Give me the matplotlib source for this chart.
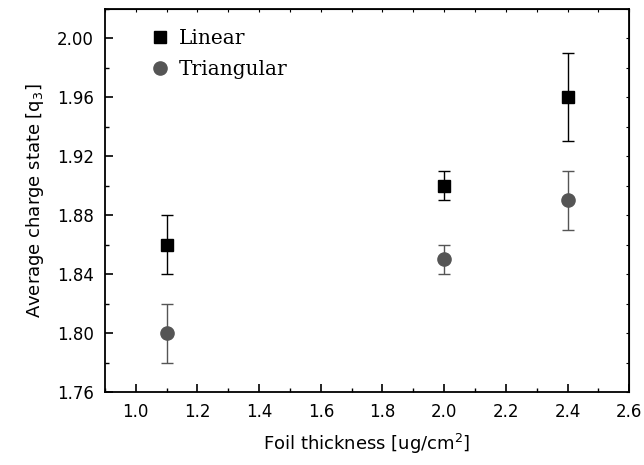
import matplotlib.pyplot as plt
from matplotlib.ticker import MultipleLocator

thickness = [1.1, 2.0, 2.4]
linear = [1.86, 1.90, 1.96]
linear_err = [0.02, 0.01, 0.03]
triangular = [1.80, 1.85, 1.89]
triangular_err = [0.02, 0.01, 0.02]

fig = plt.figure(figsize=(6.44, 4.65), dpi=100)
ax = fig.add_axes([0.163, 0.157, 0.814, 0.824])

e1 = ax.errorbar(thickness, linear, yerr=linear_err, fmt='s', color='black',
                 markersize=8.5, capsize=4, elinewidth=1, capthick=1, label='Linear')
e2 = ax.errorbar(thickness, triangular, yerr=triangular_err, fmt='o', color='#555555',
                 markersize=9.5, capsize=4, elinewidth=1, capthick=1, label='Triangular')

ax.set_xlim(0.9, 2.6)
ax.set_ylim(1.76, 2.02)
ax.xaxis.set_major_locator(MultipleLocator(0.2))
ax.xaxis.set_minor_locator(MultipleLocator(0.1))
ax.yaxis.set_major_locator(MultipleLocator(0.04))
ax.yaxis.set_minor_locator(MultipleLocator(0.02))
ax.xaxis.set_major_formatter(plt.FormatStrFormatter('%.1f'))
ax.yaxis.set_major_formatter(plt.FormatStrFormatter('%.2f'))
ax.tick_params(which='major', direction='in', length=6, width=1.2, labelsize=12, pad=8)
ax.tick_params(which='minor', direction='in', length=3, width=1)
for s in ax.spines.values():
    s.set_linewidth(1.3)

# short mirrored ticks on top and right
top = ax.secondary_xaxis('top')
top.xaxis.set_major_locator(MultipleLocator(0.1))
top.tick_params(direction='in', length=2, labeltop=False)
right = ax.secondary_yaxis('right')
right.yaxis.set_major_locator(MultipleLocator(0.02))
right.tick_params(direction='in', length=2, labelright=False)

ax.set_xlabel('Foil thickness [ug/cm$^2$]', fontsize=13, labelpad=8)
ax.set_ylabel('Average charge state [q$_3$]', fontsize=13, labelpad=8)

ax.legend([e1[0], e2[0]], ['Linear', 'Triangular'], loc='upper left',
          bbox_to_anchor=(0.052, 0.995), frameon=False,
          prop={'family': 'DejaVu Serif', 'size': 14.5},
          handletextpad=0.4, handlelength=1.0, labelspacing=0.6)

fig.savefig('out.png', dpi=100)
